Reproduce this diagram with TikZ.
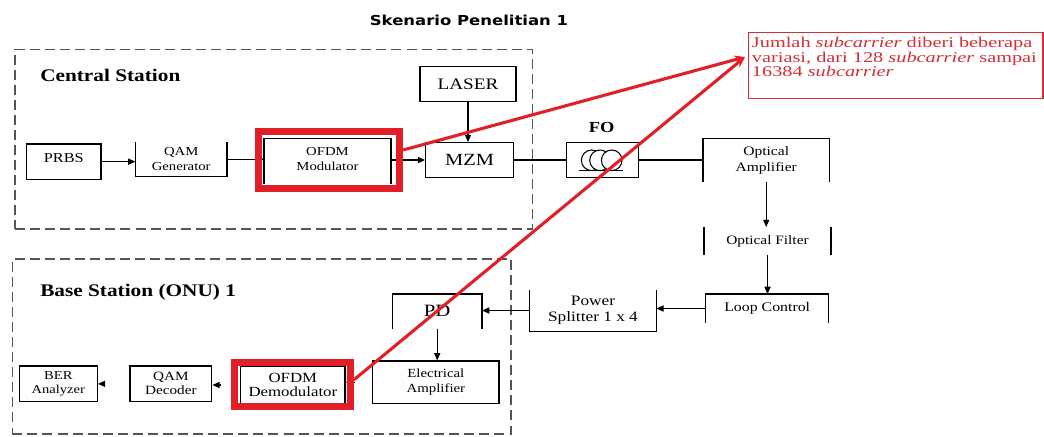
\documentclass[tikz,border=0pt]{standalone}
\usepackage{fontspec}
\setmainfont{Liberation Serif}[FakeStretch=1.2]
\newfontfamily\titlefont{DejaVu Sans}[FakeStretch=1.2]
\newfontfamily\annfont{Liberation Serif}[FakeStretch=1.36]
\usetikzlibrary{arrows.meta,calc}
\definecolor{hlred}{RGB}{226,30,38}
\definecolor{anred}{RGB}{214,45,55}
\definecolor{dashgray}{RGB}{85,85,85}
\begin{document}
\begin{tikzpicture}[x=0.75pt,y=-0.75pt,
  bx/.style 2 args={minimum width=#1*0.75pt, minimum height=#2*0.75pt, inner sep=0pt, align=center},
  full/.style={draw, line width=0.9pt},
  edge/.style={line width=0.9pt},
  arr/.style={edge, -{Triangle[length=5.5pt,width=4.6pt]}},
  region/.style={draw=dashgray, line width=0.9pt, dash pattern=on 7.5pt off 3.8pt},
  hl/.style={draw=hlred, line width=5pt, inner sep=0pt},
  redarrow/.style={draw=hlred, line width=2.3pt, -{Stealth[length=8pt,width=6.5pt]}},
  fs/.style 2 args={font=\fontsize{#1}{#2}\selectfont},
]
\useasboundingbox (0,0) rectangle (1044,436);
\fill[white] (0,0) rectangle (1044,436);

% title
\node[font=\titlefont\bfseries\fontsize{10.3}{12}\selectfont, inner sep=0pt] (title) at (469,20) {Skenario Penelitian 1};

% regions
\node[region, bx={517.7}{179.7}] (cs) at (273.85,139.15) {};
\node[region, bx={498.7}{175}] (bs) at (261.65,346.5) {};
\node[anchor=west, inner sep=0pt, font=\bfseries\fontsize{13.3}{15}\selectfont] (cslabel) at (40,75) {Central Station};
\node[anchor=west, inner sep=0pt, font=\bfseries\fontsize{13.3}{15}\selectfont] (bslabel) at (40,292.7) {Base Station (ONU) 1};

% central station blocks
\node[full, bx={74.3}{35.3}, fs={10.2}{12}, text depth=5pt] (prbs) at (63.85,161.65) {PRBS};
\node[bx={91}{33.7}, fs={9.2}{11}] (qamg) at (181.2,159.15) {QAM\\Generator};
\node[bx={126.4}{45}, fs={9.2}{11}, text depth=4pt] (ofdm) at (327.5,161.5) {OFDM\\Modulator};
\node[full, bx={96}{35}, fs={12}{14}] (laser) at (468,84.2) {LASER};
\node[full, bx={88}{34.6}, fs={12.8}{14}] (mzm) at (469.7,160) {MZM};
\node[full, bx={71.6}{34.6}] (fo) at (602.5,160) {};
\node[inner sep=0pt, font=\bfseries\fontsize{11.5}{13}\selectfont] (folabel) at (601.7,127.3) {FO};

% right column
\node[bx={125.7}{42.7}, fs={9.7}{11.8}] (oamp) at (766.2,160.4) {Optical\\Amplifier};
\node[bx={126.4}{27.7}, fs={9.6}{11}] (ofilt) at (767.5,241.2) {Optical Filter};
\node[bx={122.3}{28.4}, fs={9.9}{11}] (loop) at (767.2,308.5) {Loop Control};
\node[bx={126}{41}, fs={10.8}{12.2}] (split) at (593,310.5) {Power\\Splitter 1 x 4};

% base station blocks
\node[bx={89}{34}, fs={13}{14}] (pd) at (437.2,311.3) {PD};
\node[full, bx={126.3}{42.3}, fs={9.3}{11.25}] (eamp) at (435.85,382.15) {Electrical\\Amplifier};
\node[full, bx={104.3}{38}, fs={10.5}{10.5}] (demod) at (292.85,385) {OFDM\\Demodulator};
\node[full, bx={81.7}{35.7}, fs={9.5}{10.5}] (qamdec) at (170.85,383.85) {QAM\\Decoder};
\node[full, bx={78}{35.7}, fs={9.1}{10.5}] (ber) at (58.3,383.85) {BER\\Analyzer};

% partial borders
\draw[edge] (qamg.north west) -- (qamg.south west) -- (qamg.south east) -- (qamg.north east);
\draw[edge] (ofdm.south west) -- (ofdm.north west) -- (ofdm.north east) -- (ofdm.south east);
\draw[edge] (oamp.south west) -- (oamp.north west) -- (oamp.north east) -- (oamp.south east);
\draw[edge] (ofilt.north west) -- (ofilt.south west);
\draw[edge] (ofilt.north east) -- (ofilt.south east);
\draw[edge] (loop.south west) -- (loop.north west) -- (loop.north east) -- (loop.south east);
\draw[edge] (split.north west) -- (split.south west) -- (split.south east) -- (split.north east);
\draw[edge] (pd.south west) -- (pd.north west) -- (pd.north east) -- (pd.south east);

% fibre coil
\foreach \cx in {591.7,600,611.7}
  \draw[line width=0.8pt, fill=white] (\cx,160.3) circle[radius=10.3];
\draw[line width=0.8pt] (579,170.7) -- (623,170.7);

% connectors
\draw[arr] (prbs.east) -- (prbs.east -| qamg.west);
\draw[arr] (qamg.east) -- (qamg.east -| ofdm.west);
\draw[arr] (mzm.west -| ofdm.east) -- (mzm.west);
\draw[arr] (laser.south) -- (laser.south |- mzm.north);
\draw[edge] (mzm.east) -- (fo.west);
\draw[edge] (fo.east) -- (fo.east -| oamp.west);
\draw[arr] (oamp.south) -- (oamp.south |- ofilt.north);
\draw[arr] (ofilt.south) -- (ofilt.south |- loop.north);
\draw[arr] (loop.west) -- (loop.west -| split.east);
\draw[arr] (split.west) -- (split.west -| pd.east);
\draw[arr] (pd.south) -- (pd.south |- eamp.north);
\draw[arr, shorten <=13pt] (eamp.west) -- (eamp.west -| demod.east);
\draw[arr, shorten <=14pt] (demod.west) -- (demod.west -| qamdec.east);
\draw[arr, shorten <=19pt] (qamdec.west) -- (qamdec.west -| ber.east);

% red highlights
\node[hl, bx={141.3}{56.4}] (hl1) at (329.15,160) {};
\node[hl, bx={115.6}{43.8}] (hl2) at (292.5,384.4) {};

% annotation
\node[draw=anred, line width=0.8pt, bx={294.7}{65.6}] (annot) at (895.65,65.5) {};
\node[anchor=north west, inner sep=0pt, align=left, text=anred,
      font=\annfont\fontsize{11.2}{11}\selectfont] (annottext) at (751.7,37)
  {Jumlah \textit{subcarrier} diberi beberapa\\variasi, dari 128 \textit{subcarrier} sampai\\16384 \textit{subcarrier}};
\coordinate (tip) at (745,57);
\draw[redarrow] ([yshift=7.5pt]hl1.east) -- (tip);
\draw[redarrow] ([yshift=3.3pt]hl2.east) -- (tip);
\end{tikzpicture}
\end{document}
